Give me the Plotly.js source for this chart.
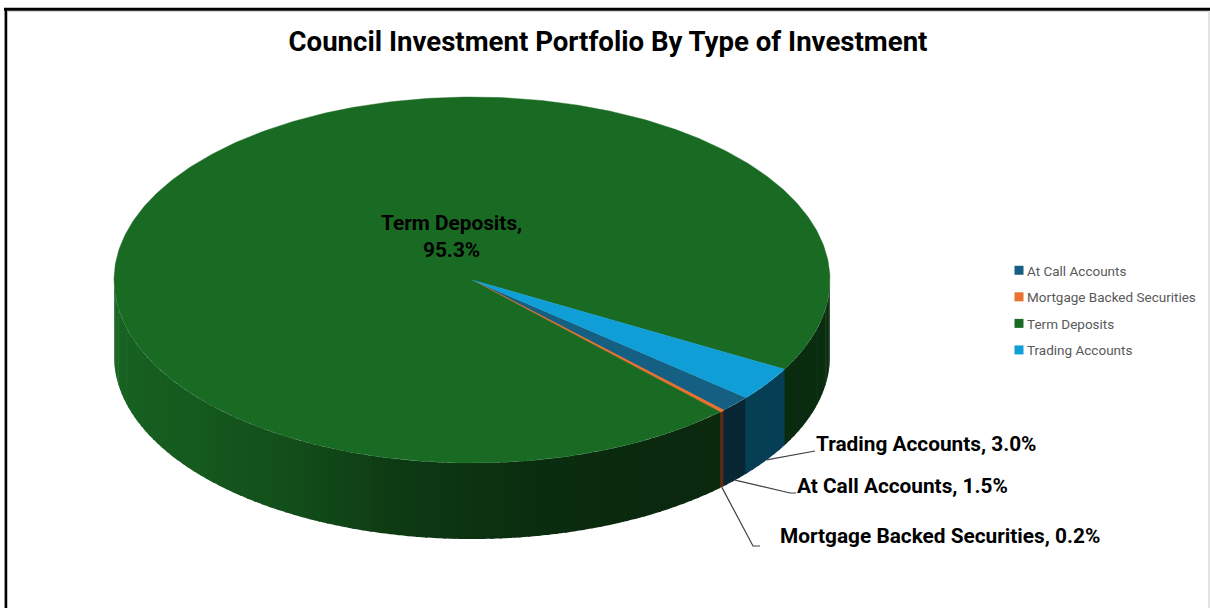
<!DOCTYPE html>
<html><head><meta charset="utf-8">
<script src="https://cdn.plot.ly/plotly-3.0.1.min.js"></script>
<style>html,body{margin:0;padding:0;background:#fff}#c{width:1210px;height:608px}</style>
</head><body><div id="c"></div><script>
// Data
const categories = ['At Call Accounts','Mortgage Backed Securities','Term Deposits','Trading Accounts'];
const shares = [1.5,0.2,95.3,3.0];
const colors = ['#156082','#E97132','#196B24','#0F9ED5'];
const startAngle = 40; // degrees clockwise from east, where the first slice begins
// Pie projection
const cx=472, cy=280, rx=358, ry=183, depth=76;
// side-wall shade by angle
const shadeAngles=[0,60,80,101,119,140,180];
const shadeValues=[.42,.38,.42,.54,.72,.84,.95];
const FONT='Roboto, sans-serif';

const rad=a=>a*Math.PI/180;
const px=a=>cx+rx*Math.cos(rad(a));
const py=(a,d=0)=>cy+ry*Math.sin(rad(a))+d;
function shade(a){
  a=((a%360)+360)%360;
  for(let i=1;i<shadeAngles.length;i++) if(a<=shadeAngles[i]){
    const t=(a-shadeAngles[i-1])/(shadeAngles[i]-shadeAngles[i-1]);
    return shadeValues[i-1]+t*(shadeValues[i]-shadeValues[i-1]);
  }
  return shadeValues[shadeValues.length-1];
}
function dim(hex,f){
  const n=parseInt(hex.slice(1),16);
  return `rgb(${Math.round((n>>16)*f)},${Math.round(((n>>8)&255)*f)},${Math.round((n&255)*f)})`;
}
const total=shares.reduce((a,b)=>a+b,0);
let acc=startAngle;
const slices=categories.map((name,i)=>{
  const a0=acc,a1=acc+shares[i]/total*360; acc=a1;
  return {name,value:shares[i],color:colors[i],a0,a1,mid:(a0+a1)/2};
});
const traces=[];
// side wall: overlapping strips, each painted over the end of the one before it
slices.forEach(s=>{
  const step=1.5;
  for(let k=-1;k<=1;k++){
    const lo=Math.max(s.a0+360*k,0),hi=Math.min(s.a1+360*k,180);
    if(hi<=lo) continue;
    for(let a=lo;a<hi;a+=step){
      const b=Math.min(a+step+0.4,hi===180?180:hi+0.2);
      const arc=[];
      for(let i=0;i<=4;i++) arc.push(a+(b-a)*i/4);
      const rev=arc.slice().reverse();
      const xs=arc.map(px).concat(rev.map(px),[px(a)]);
      const ys=arc.map(t=>py(t,0)).concat(rev.map(t=>py(t,depth)),[py(a,0)]);
      const col=dim(s.color,shade(a+step/2));
      traces.push({type:'scatter',mode:'none',x:xs,y:ys,fill:'toself',fillcolor:col,
        hoverinfo:'skip',showlegend:false});
    }
  }
});
// top face
slices.forEach(s=>{
  const n=Math.max(6,Math.ceil((s.a1-s.a0)*1.5));
  const xs=[cx],ys=[cy];
  for(let i=0;i<=n;i++){const a=s.a0+(s.a1-s.a0)*i/n;xs.push(px(a));ys.push(py(a));}
  xs.push(cx);ys.push(cy);
  traces.push({type:'scatter',mode:'lines',x:xs,y:ys,fill:'toself',fillcolor:s.color,
    line:{color:s.color,width:s.value<1?1.2:0.4},hoverinfo:'text',text:`${s.name}: ${s.value.toFixed(1)}%`,showlegend:false});
});
// legend entries
slices.forEach(s=>traces.push({type:'scatter',mode:'markers',x:[null],y:[null],name:s.name,legendgroup:s.name,
  marker:{symbol:'square',size:9,color:s.color},hoverinfo:'skip'}));
// leader lines
const leaders={
  'Trading Accounts':[[815,451]],
  'At Call Accounts':[[790,493],[796,493]],
  'Mortgage Backed Securities':[[753,546],[760,546]]
};
slices.forEach(s=>{
  if(!leaders[s.name]) return;
  const pts=[[px(s.mid),py(s.mid,depth)]].concat(leaders[s.name]);
  traces.push({type:'scatter',mode:'lines',x:pts.map(p=>p[0]),y:pts.map(p=>p[1]),
    line:{color:'#404040',width:1.2},hoverinfo:'skip',showlegend:false});
});
const labelPos={
  'Term Deposits':[451,236],
  'Trading Accounts':[926,444],
  'At Call Accounts':[902,486],
  'Mortgage Backed Securities':[940,536]
};
const annotations=slices.map(s=>({
  xref:'x',yref:'y',x:labelPos[s.name][0],y:labelPos[s.name][1],showarrow:false,align:'center',
  text:s.name==='Term Deposits'?`<b>${s.name},<br>${s.value.toFixed(1)}%</b>`:`<b>${s.name}, ${s.value.toFixed(1)}%</b>`,
  font:{family:FONT,size:20.8,color:'#000'}
}));
const W=1210,H=608;
const frame=[
  {type:'line',xref:'paper',yref:'paper',x0:4.5/W,x1:4.5/W,y0:0,y1:1-10/H,line:{color:'#c8c8c8',width:1}},
  {type:'line',xref:'paper',yref:'paper',x0:6/W,x1:6/W,y0:0,y1:1-9/H,line:{color:'#000',width:2.5}},
  {type:'line',xref:'paper',yref:'paper',x0:4/W,x1:1,y0:1-9.2/H,y1:1-9.2/H,line:{color:'#000',width:3}},
  {type:'line',xref:'paper',yref:'paper',x0:7/W,x1:1208/W,y0:1-11.5/H,y1:1-11.5/H,line:{color:'#d4d4d4',width:1}},
  {type:'line',xref:'paper',yref:'paper',x0:1209/W,x1:1209/W,y0:0,y1:1-11/H,line:{color:'#c8c8c8',width:1}}
];
const layout={
  width:W,height:H,margin:{l:0,r:0,t:0,b:0},paper_bgcolor:'#fff',plot_bgcolor:'#fff',
  title:{text:'<b>Council Investment Portfolio By Type of Investment</b>',x:608/W,xanchor:'center',y:1-41/H,yanchor:'middle',
    font:{family:FONT,size:27.6,color:'#000'}},
  xaxis:{range:[0,W],visible:false,fixedrange:true},
  yaxis:{range:[H,0],visible:false,fixedrange:true},
  legend:{x:987/W,xanchor:'left',y:1-255/H,yanchor:'top',font:{family:FONT,size:13.5,color:'#595959'},
    traceorder:'grouped',tracegroupgap:6,bgcolor:'rgba(0,0,0,0)'},
  shapes:frame,annotations,showlegend:true
};
Plotly.newPlot('c',traces,layout,{displayModeBar:false,staticPlot:true}).then(gd=>{
  // pull the legend swatches next to their text
  gd.querySelectorAll('.legend .legendsymbols').forEach(g=>g.setAttribute('transform','translate(12,0)'));
});
</script></body></html>
